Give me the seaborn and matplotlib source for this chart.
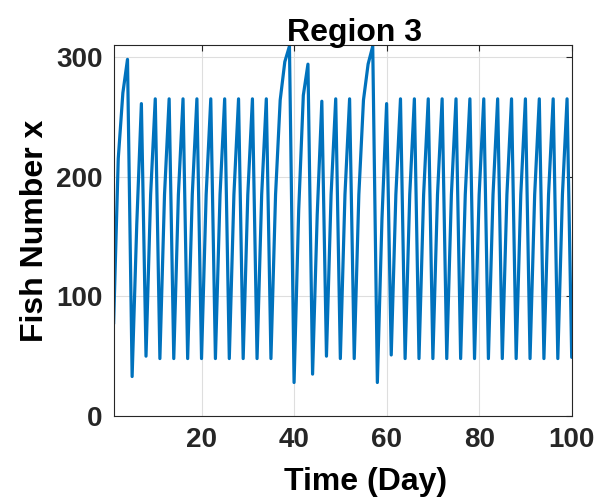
import numpy as np
import pandas as pd
import matplotlib
matplotlib.use('Agg')
import matplotlib.pyplot as plt
import seaborn as sns

days = list(range(1, 101))
fish = [77, 215, 270, 298, 33, 160, 261, 50, 185, 265,
        48, 185, 265, 48, 185, 265, 48, 185, 265, 48,
        185, 265, 48, 185, 265, 48, 185, 265, 48, 185,
        265, 48, 185, 265, 48, 185, 264, 296, 309, 28,
        172, 268, 294, 35, 168, 263, 50, 185, 265, 48,
        185, 265, 48, 185, 264, 294, 309, 28, 165, 261,
        51, 185, 265, 48, 185, 265, 48, 185, 265, 48,
        185, 265, 48, 185, 265, 48, 185, 265, 48, 185,
        265, 48, 185, 265, 48, 185, 265, 48, 185, 265,
        48, 185, 265, 48, 185, 265, 48, 185, 265, 49]
xticks = [20, 40, 60, 80, 100]
yticks = [0, 100, 200, 300]

df = pd.DataFrame({'Day': days, 'Fish': fish})

sns.set_theme(style='white')
plt.rcParams['font.family'] = ['Liberation Sans', 'DejaVu Sans']

fig = plt.figure(figsize=(5.98, 5.0), dpi=100)
ax = fig.add_axes([0.19, 0.168, 0.766, 0.742])
sns.lineplot(data=df, x='Day', y='Fish', color='#0072BD', linewidth=2.3, ax=ax)

ax.set_xlim(1, 100)
ax.set_ylim(0, 310)
ax.set_xticks(xticks)
ax.set_yticks(yticks)
ax.grid(True, color='#dedede', linewidth=0.8)
ax.tick_params(direction='in', length=4, width=0.8, colors='#262626',
               labelsize=20, top=True, right=True, pad=8)
for lab in ax.get_xticklabels() + ax.get_yticklabels():
    lab.set_fontweight('bold')
for s in ax.spines.values():
    s.set_color('#262626')
    s.set_linewidth(0.8)

ax.set_xlabel('Time (Day)', fontsize=23, fontweight='bold', color='black')
ax.xaxis.set_label_coords(0.551, -0.138)
ax.set_ylabel('Fish Number x', fontsize=23, fontweight='bold', color='black', labelpad=4)
ax.set_title('Region 3', fontsize=23, fontweight='bold', color='black', x=0.525, pad=3)

fig.savefig('out.png', dpi=100)
